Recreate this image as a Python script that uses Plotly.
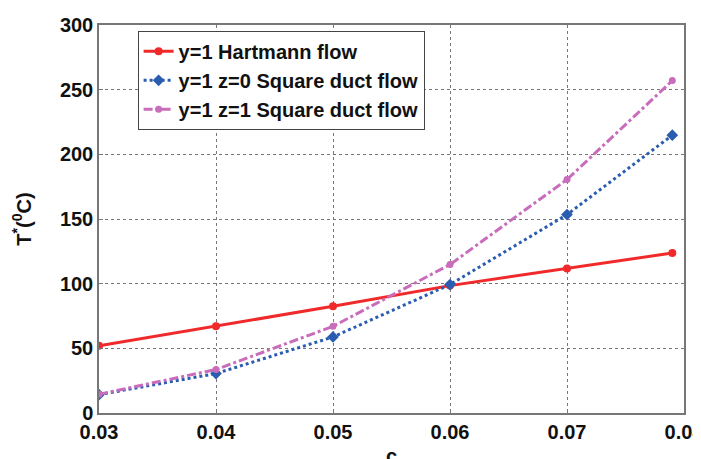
import plotly.graph_objects as go

c_vals = [0.03, 0.04, 0.05, 0.06, 0.07, 0.079]
hartmann = [52, 67, 82.5, 98.5, 111.7, 123.7]
duct_z0 = [14.2, 30.5, 58.8, 99.3, 153.4, 214.8]
duct_z1 = [14.5, 33.6, 67, 114.8, 180.5, 257]

x_ticks = [0.03, 0.04, 0.05, 0.06, 0.07, 0.08]
x_tick_labels = ["0.03", "0.04", "0.05", "0.06", "0.07", "0.08"]
y_ticks = [0, 50, 100, 150, 200, 250, 300]

fig = go.Figure()
fig.add_trace(go.Scatter(x=c_vals, y=hartmann, mode="lines+markers",
                         name="y=1 Hartmann flow",
                         line=dict(color="#f02a2a", width=3, dash="solid"),
                         marker=dict(symbol="circle", size=8, color="#f02a2a")))
fig.add_trace(go.Scatter(x=c_vals, y=duct_z0, mode="lines+markers",
                         name="y=1 z=0 Square duct flow",
                         line=dict(color="#2a5db0", width=3, dash="dot"),
                         marker=dict(symbol="diamond", size=9, color="#2a5db0")))
fig.add_trace(go.Scatter(x=c_vals, y=duct_z1, mode="lines+markers",
                         name="y=1 z=1 Square duct flow",
                         line=dict(color="#c86cbb", width=3, dash="dashdot"),
                         marker=dict(symbol="circle", size=7, color="#c86cbb")))

fig.update_layout(
    width=701, height=459,
    margin=dict(l=91, r=25, t=17, b=54, autoexpand=False),
    paper_bgcolor="white", plot_bgcolor="white",
    font=dict(family="Liberation Sans, Arial, sans-serif", color="#111111"),
    legend=dict(x=0.066, y=0.985, xanchor="left", yanchor="top",
                bgcolor="white", bordercolor="#444444", borderwidth=1,
                font=dict(size=20, family="Liberation Sans, Arial, sans-serif", weight="bold"),
                tracegroupgap=0, itemwidth=30),
    xaxis=dict(range=[0.03, 0.08], tickvals=x_ticks, ticktext=x_tick_labels,
               showgrid=True, gridcolor="#777777", griddash="dot", gridwidth=1,
               showline=True, linecolor="#777777", linewidth=1.5, mirror=True,
               ticks="inside", ticklen=4, tickcolor="#777777", automargin=False,
               ticklabeloverflow="allow",
               tickfont=dict(size=20, weight="bold"), zeroline=False,
               title=dict(text="<b>c</b>", font=dict(size=20), standoff=29)),
    yaxis=dict(range=[0, 300], tickvals=y_ticks, automargin=False,
               showgrid=True, gridcolor="#777777", griddash="dot", gridwidth=1,
               showline=True, linecolor="#777777", linewidth=1.5, mirror=True,
               ticks="inside", ticklen=4, tickcolor="#777777",
               tickfont=dict(size=20, weight="bold"), zeroline=False,
               title=dict(text="<b>T<sup>*</sup>(<sup>0</sup>C)</b>", font=dict(size=20), standoff=23)),
)

fig.write_html("out.html")
